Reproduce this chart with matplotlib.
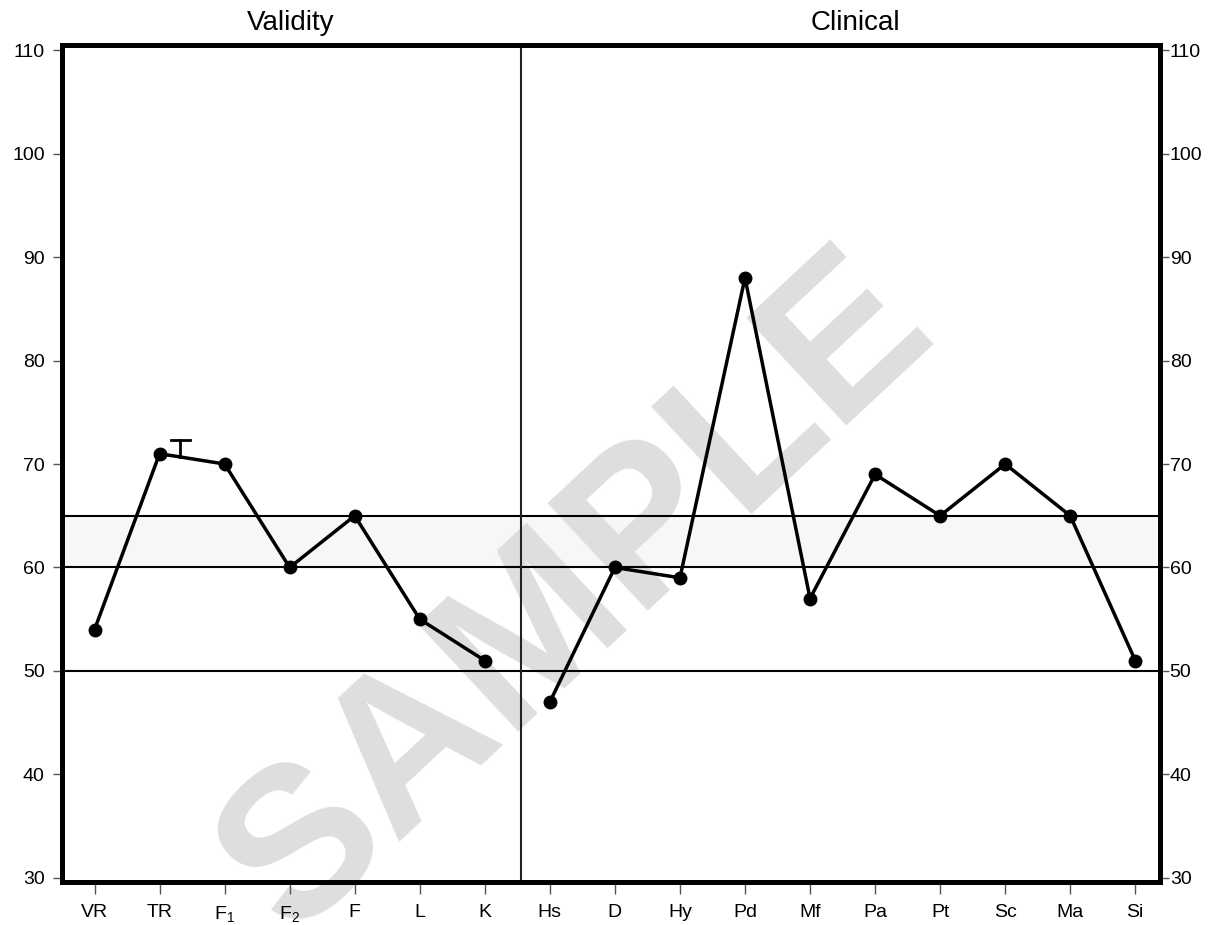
import matplotlib
matplotlib.use("Agg")
import matplotlib.pyplot as plt

plt.rcParams['font.family'] = ['Liberation Sans', 'DejaVu Sans']

validity_labels = ["VR", "TR", r"$\mathregular{F_1}$", r"$\mathregular{F_2}$", "F", "L", "K"]
validity_values = [54, 71, 70, 60, 65, 55, 51]
clinical_labels = ["Hs", "D", "Hy", "Pd", "Mf", "Pa", "Pt", "Sc", "Ma", "Si"]
clinical_values = [47, 60, 59, 88, 57, 69, 65, 70, 65, 51]
ref_lines = [50, 60, 65]
band = (60, 65)
y_ticks = [30, 40, 50, 60, 70, 80, 90, 100, 110]
tr_marker_top = 72.3

W, H = 1228, 925
fig = plt.figure(figsize=(W/100, H/100), dpi=100)
L, R, T, B = 62, 1160, 45, 882
ax = fig.add_axes([L/W, 1 - B/H, (R-L)/W, (B-T)/H])

nv = len(validity_values)
xv = list(range(nv))
xc = list(range(nv, nv + len(clinical_values)))
labels = validity_labels + clinical_labels

ylim = (29.6, 110.5)
ax.set_xlim(-0.5, len(labels) - 1 + 0.38)
ax.set_ylim(*ylim)

ax.axhspan(band[0], band[1], color='#f7f7f7', zorder=0.3)
for r in ref_lines:
    ax.axhline(r, color='black', lw=1.5, zorder=3)
ax.axvline(nv - 0.45, color='#222222', lw=1.5, zorder=3)

ax.plot(xv, validity_values, color='black', lw=2.5, marker='o', ms=9, zorder=4)
ax.plot(xc, clinical_values, color='black', lw=2.5, marker='o', ms=9, zorder=4)

# truncation marker near TR
tx = 1 + 0.32
ty = validity_values[1] + (validity_values[2] - validity_values[1]) * 0.32
ax.plot([tx, tx], [ty, tr_marker_top], color='black', lw=2, zorder=4)
ax.plot([tx - 0.15, tx + 0.15], [tr_marker_top, tr_marker_top], color='black', lw=2, zorder=4)

ax.set_xticks(range(len(labels)))
ax.set_xticklabels(labels, fontsize=14)
ax.set_yticks(y_ticks)
ax.tick_params(axis='y', left=True, right=False, labelleft=True, labelright=False,
               labelsize=14, length=6.5, width=1, color='#555555', direction='out', pad=6)
ax.tick_params(axis='x', labelsize=14, length=8.5, width=1, color='#555555', direction='out', pad=7)
ax.xaxis.set_zorder(6)
ax.yaxis.set_zorder(6)

ax2 = ax.twinx()
ax2.set_ylim(*ylim)
ax2.set_yticks(y_ticks)
ax2.tick_params(axis='y', labelsize=14, length=6.5, width=1, color='#555555', direction='out', pad=0.5)

for a in (ax, ax2):
    for s in a.spines.values():
        s.set_linewidth(3.5)
        s.set_zorder(5)

ty_title = 1 + 15/(B-T)
ax.text(3.02, ty_title, "Validity", transform=ax.get_xaxis_transform(), ha='center', va='baseline', fontsize=20)
ax.text(11.7, ty_title, "Clinical", transform=ax.get_xaxis_transform(), ha='center', va='baseline', fontsize=20)

wx, wy = 578, 595
ax.text((wx - L)/(R - L), (B - wy)/(B - T), "SAMPLE", transform=ax.transAxes,
        rotation=43, fontsize=153, fontweight='bold', color='#dedede', ha='center', va='center',
        zorder=0.6, rotation_mode='anchor')

fig.savefig("out.png", dpi=100)
